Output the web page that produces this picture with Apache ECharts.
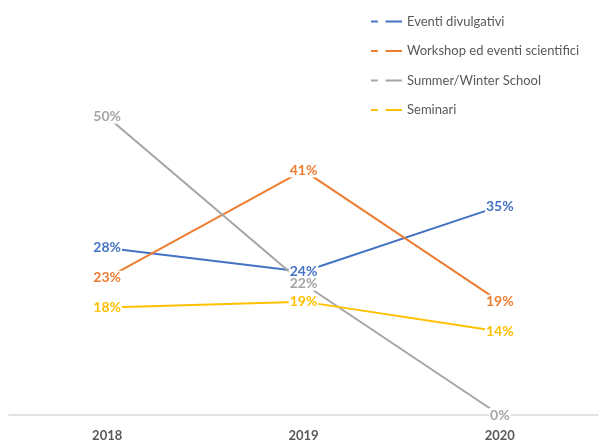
<!DOCTYPE html>
<html>
<head>
<meta charset="utf-8">
<script src="https://cdn.jsdelivr.net/npm/echarts@6/dist/echarts.min.js"></script>
<style>
  html, body { margin: 0; padding: 0; background: #fff; }
  #chart { width: 605px; height: 443px; }
</style>
</head>
<body>
<div id="chart"></div>
<script>
// Years on the x axis
const years = ['2018', '2019', '2020'];

// Share of events per type, in percent
const eventiDivulgativi = [28, 24, 35];
const workshopScientifici = [23, 41, 19];
const summerWinterSchool = [50, 22, 0];
const seminari = [18, 19, 14];

const seriesNames = [
  'Eventi divulgativi',
  'Workshop ed eventi scientifici',
  'Summer/Winter School',
  'Seminari'
];
const seriesValues = [eventiDivulgativi, workshopScientifici, summerWinterSchool, seminari];
const seriesColors = ['#4472C4', '#ED7D31', '#A5A5A5', '#FFC000'];

const FONT = 'Lato';

const chart = echarts.init(document.getElementById('chart'), null, { renderer: 'canvas' });

chart.setOption({
  animation: false,
  backgroundColor: '#ffffff',
  legend: {
    orient: 'vertical',
    left: 366,
    top: 10,
    itemWidth: 31,
    itemHeight: 2,
    itemGap: 16.5,
    icon: 'path://M0 0H7V2H0Z M15 0H32V2H15Z',
    textStyle: { color: '#595959', fontFamily: FONT, fontSize: 13 },
    data: seriesNames
  },
  grid: { left: 9, right: 7, top: 57, bottom: 28, containLabel: false },
  xAxis: {
    type: 'category',
    data: years,
    boundaryGap: true,
    axisLine: { lineStyle: { color: '#D9D9D9', width: 1.5 } },
    axisTick: { show: false },
    axisLabel: {
      color: '#595959',
      fontFamily: FONT,
      fontWeight: 'bold',
      fontSize: 13,
      margin: 14
    }
  },
  yAxis: {
    type: 'value',
    min: 0,
    max: 60,
    show: false,
    splitLine: { show: false }
  },
  series: seriesNames.map((name, i) => ({
    name: name,
    type: 'line',
    data: seriesValues[i],
    symbol: 'circle',
    symbolSize: 1,
    showSymbol: true,
    color: seriesColors[i],
    lineStyle: { width: 2, color: seriesColors[i] },
    itemStyle: { color: seriesColors[i] },
    label: {
      show: true,
      position: 'inside',
      formatter: '{c}%',
      color: seriesColors[i],
      fontFamily: FONT,
      fontWeight: 'bold',
      fontSize: 14,
      backgroundColor: '#ffffff',
      padding: [0, 1]
    },
    emphasis: { disabled: true }
  }))
});
</script>
</body>
</html>
